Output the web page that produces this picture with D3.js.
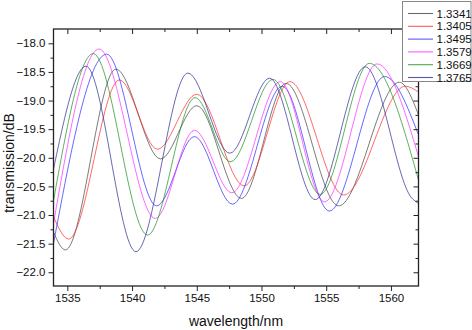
<!DOCTYPE html>
<html>
<head>
<meta charset="utf-8">
<script src="https://cdn.jsdelivr.net/npm/d3@7"></script>
<style>
  body { margin: 0; background: #fff; }
  svg { display: block; font-family: "Liberation Sans", Arial, sans-serif; }
</style>
</head>
<body>
<div id="container"></div>
<script>
// refractive index of each trace (legend order)
const seriesNames = ["1.3341", "1.3405", "1.3495", "1.3579", "1.3669", "1.3765"]
const seriesColors = ["#3a3a3a", "#ff2020", "#2020ff", "#ff20ff", "#108a10", "#20208a"]

// [wavelength nm, transmission dB] (edges + turning points)
const s1_3341 = [[1533.93, -21.30], [1534.85, -21.61], [1538.75, -18.45], [1542.20, -20.02], [1545.00, -19.09],
    [1548.45, -20.71], [1551.90, -18.70], [1555.96, -20.84], [1560.65, -18.68], [1562.13, -19.25]]
const s1_3405 = [[1533.93, -21.03], [1535.10, -21.42], [1539.02, -18.64], [1541.96, -19.85], [1545.00, -18.89],
    [1548.66, -20.49], [1552.20, -18.67], [1556.35, -20.65], [1561.11, -18.75], [1562.13, -18.85]]
const s1_3495 = [[1533.93, -21.50], [1538.04, -18.19], [1541.90, -20.84], [1544.82, -19.63], [1547.76, -20.81],
    [1551.60, -18.75], [1555.24, -20.93], [1559.51, -18.58], [1562.13, -19.60]]
const s1_3579 = [[1533.93, -21.15], [1537.45, -18.10], [1541.80, -21.06], [1544.82, -19.52], [1547.71, -20.61],
    [1551.45, -18.67], [1554.87, -20.77], [1558.93, -18.36], [1562.13, -19.98]]
const s1_3669 = [[1533.93, -20.75], [1537.00, -18.18], [1541.20, -21.35], [1544.87, -18.95], [1547.60, -20.07],
    [1550.88, -18.63], [1554.54, -20.64], [1558.33, -18.35], [1562.13, -20.39]]
const s1_3765 = [[1533.93, -20.20], [1536.44, -18.40], [1540.30, -21.64], [1544.31, -18.52], [1547.55, -19.92],
    [1550.62, -18.61], [1554.15, -20.73], [1558.02, -18.41], [1561.60, -20.70], [1562.13, -20.80]]
const seriesData = [s1_3341, s1_3405, s1_3495, s1_3579, s1_3669, s1_3765]

const xTicks = [1535, 1540, 1545, 1550, 1555, 1560]
const xMinor = [1537.5, 1542.5, 1547.5, 1552.5, 1557.5]
const yTicks = [-18.0, -18.5, -19.0, -19.5, -20.0, -20.5, -21.0, -21.5, -22.0]
const yMinor = [-18.25, -18.75, -19.25, -19.75, -20.25, -20.75, -21.25, -21.75]

const width = 472, height = 330
const margin = { left: 53.5, top: 29, right: 53.5, bottom: 44 }
const innerW = width - margin.left - margin.right
const innerH = height - margin.top - margin.bottom

const svg = d3.select('#container').append('svg')
    .attr('width', width).attr('height', height)

const x = d3.scaleLinear().domain([1533.93, 1562.13]).range([0, innerW])
const y = d3.scaleLinear().domain([-22.24, -17.75]).range([innerH, 0])

const g = svg.append('g').attr('transform', `translate(${margin.left},${margin.top})`)

g.append('clipPath').attr('id', 'plotclip')
    .append('rect').attr('width', innerW).attr('height', innerH)

const line = d3.line()
    .x(d => x(d[0]))
    .y(d => y(d[1]))
    .curve(d3.curveMonotoneX)

g.append('g').attr('clip-path', 'url(#plotclip)')
    .selectAll('.trace')
    .data(seriesData)
    .enter()
    .append('path')
    .attr('class', 'trace')
    .attr('d', line)
    .attr('fill', 'none')
    .attr('stroke', (d, i) => seriesColors[i])
    .attr('stroke-width', 0.9)
    .attr('stroke-opacity', 0.75)

// axes: bottom / left with ticks out, top / right mirrored with ticks in
const fmtY = d3.format('.1f')
const axisStyle = sel => {
    sel.select('.domain').remove()
    sel.selectAll('line').attr('stroke', '#222').attr('stroke-width', 1)
    sel.selectAll('text').attr('font-size', 11.5).attr('fill', '#111')
}

g.append('g').attr('transform', `translate(0,${innerH})`)
    .call(d3.axisBottom(x).tickValues(xTicks).tickSize(5).tickPadding(3).tickFormat(d3.format('d')))
    .call(axisStyle)
g.append('g').attr('transform', `translate(0,${innerH})`)
    .call(d3.axisBottom(x).tickValues(xMinor).tickSize(3).tickFormat(''))
    .call(axisStyle)
g.append('g')
    .call(d3.axisBottom(x).tickValues(xTicks).tickSize(5).tickFormat(''))
    .call(axisStyle)
g.append('g')
    .call(d3.axisBottom(x).tickValues(xMinor).tickSize(3).tickFormat(''))
    .call(axisStyle)

g.append('g')
    .call(d3.axisLeft(y).tickValues(yTicks).tickSize(5).tickPadding(3).tickFormat(fmtY))
    .call(axisStyle)
g.append('g')
    .call(d3.axisLeft(y).tickValues(yMinor).tickSize(3).tickFormat(''))
    .call(axisStyle)
g.append('g').attr('transform', `translate(${innerW},0)`)
    .call(d3.axisLeft(y).tickValues(yTicks).tickSize(5).tickFormat(''))
    .call(axisStyle)
g.append('g').attr('transform', `translate(${innerW},0)`)
    .call(d3.axisLeft(y).tickValues(yMinor).tickSize(3).tickFormat(''))
    .call(axisStyle)

g.append('rect')
    .attr('width', innerW).attr('height', innerH)
    .attr('fill', 'none').attr('stroke', '#222').attr('stroke-width', 1.3)

svg.append('text')
    .attr('x', margin.left + innerW / 2).attr('y', 326)
    .attr('text-anchor', 'middle').attr('font-size', 14).attr('fill', '#111')
    .text('wavelength/nm')

svg.append('text')
    .attr('transform', `translate(14,163) rotate(-90)`)
    .attr('text-anchor', 'middle').attr('font-size', 14).attr('fill', '#111')
    .text('transmission/dB')

// legend
const legend = svg.append('g').attr('transform', 'translate(402.5,1.5)')
legend.append('rect')
    .attr('width', 68.5).attr('height', 80)
    .attr('fill', '#fff').attr('stroke', '#888').attr('stroke-width', 1)
const items = legend.selectAll('.item')
    .data(seriesNames)
    .enter().append('g')
    .attr('class', 'item')
    .attr('transform', (d, i) => `translate(0,${12 + i * 12.8})`)
items.append('line')
    .attr('x1', 5.5).attr('x2', 30.5)
    .attr('stroke', (d, i) => seriesColors[i])
    .attr('stroke-width', 1.1).attr('stroke-opacity', 0.75)
items.append('text')
    .attr('x', 34).attr('dy', '0.35em')
    .attr('font-size', 11.5).attr('fill', '#111')
    .text(d => d)
</script>
</body>
</html>
